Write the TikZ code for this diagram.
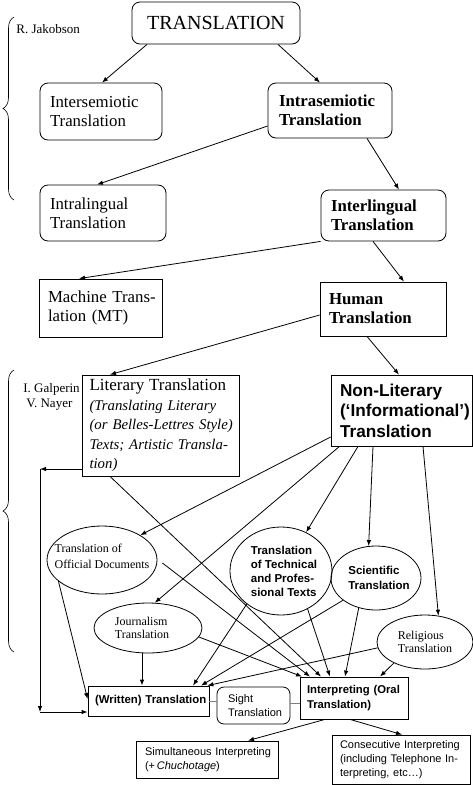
\documentclass[tikz,border=0pt]{standalone}
\usepackage{fontspec}
\setmainfont{Liberation Serif}
\newfontfamily\arialf{Liberation Sans}
\usetikzlibrary{arrows.meta,shapes.geometric,decorations.pathreplacing,calc}
\begin{document}
\begin{tikzpicture}[x=1pt,y=-1pt, line width=0.8pt,
  rbox/.style={draw, rounded corners=8pt, align=left, inner ysep=0pt},
  sbox/.style={draw, align=left, inner ysep=0pt},
  ell/.style={draw, ellipse, inner sep=0pt},
  arr/.style={-{Latex[length=6pt,width=4.5pt]}},
  tmf/.style={font=\fontsize{16.8}{19}\selectfont},
  tmb/.style={font=\fontsize{16.8}{19}\selectfont\bfseries},
  brc/.style={decorate, decoration={brace, amplitude=11pt}, line width=0.6pt},
  lbl/.style={anchor=base west, inner sep=0pt, font=\fontsize{13}{15}\selectfont},
  link/.style={draw=gray, line width=0.8pt}
]
\useasboundingbox (0,0) rectangle (473,785);

% top part
\node[rbox, align=center, minimum width=168pt, minimum height=42pt, font=\fontsize{20}{24}\selectfont] (trans) at (216,23) {TRANSLATION};
\node[rbox, tmf, text width=102pt, inner xsep=10pt, minimum height=57pt] (inter) at (101,111.5) {Intersemiotic\\Translation};
\node[rbox, tmb, text width=102pt, inner xsep=11pt, minimum height=55pt] (intra) at (330,110.5) {Intrasemiotic\\Translation};
\node[rbox, tmf, text width=106pt, inner xsep=10pt, minimum height=56pt] (intral) at (103,213) {Intralingual\\Translation};
\node[rbox, tmb, text width=105pt, inner xsep=10pt, minimum height=51pt] (interl) at (383.5,215.5) {Interlingual\\Translation};
\node[sbox, tmf, text width=105pt, inner xsep=9pt, minimum height=58pt] (mt) at (100.5,308) {\mbox{Machine Trans-}\\lation (MT)};
\node[sbox, tmb, text width=108pt, inner xsep=9pt, minimum height=54pt] (human) at (383,309) {Human\\Translation};

\node[sbox, text width=142pt, inner xsep=7.5pt, minimum height=101pt, font=\fontsize{14.8}{19.5}\selectfont\itshape] (lit) at (160.5,425.5)
  {\mbox{\upshape\fontsize{17}{19.5}\selectfont Literary Translation}\\
   \mbox{(Translating Literary}\\ \mbox{(or Belles-Lettres Style)}\\ \mbox{Texts; Artistic Transla-}\\ tion)};
\node[sbox, text width=123pt, inner xsep=9pt, minimum height=71pt, font=\arialf\bfseries\fontsize{17.2}{20.5}\selectfont] (nonlit) at (401.5,410.5)
  {\mbox{Non-Literary}\\ \mbox{(‘Informational’)}\\Translation};

% ellipses
\node[ell, minimum width=110pt, minimum height=68pt,
  label={[align=left, yshift=4pt, font=\fontsize{12}{16}\selectfont]center:{Translation of\\Official Documents}}] (offdoc) at (102,560) {};
\node[ell, minimum width=102pt, minimum height=88pt,
  label={[align=left, xshift=3pt, font=\arialf\bfseries\fontsize{11.5}{14}\selectfont]center:{Translation\\of Technical\\and Profes-\\sional Texts}}] (tech) at (281,571) {};
\node[ell, minimum width=90pt, minimum height=64pt,
  label={[align=left, xshift=3pt, font=\arialf\bfseries\fontsize{11.5}{14.5}\selectfont]center:{Scientific\\Translation}}] (sci) at (376,578) {};
\node[ell, minimum width=108pt, minimum height=50pt,
  label={[align=left, xshift=-6pt, font=\fontsize{12}{13.5}\selectfont]center:{Journalism\\Translation}}] (journ) at (148,628) {};
\node[ell, minimum width=96pt, minimum height=54pt,
  label={[align=left, font=\fontsize{12}{13.5}\selectfont]center:{Religious\\Translation}}] (relig) at (425,642) {};

% bottom boxes
\node[sbox, text width=107pt, inner xsep=7pt, minimum height=30pt, font=\arialf\bfseries\fontsize{11.4}{14}\selectfont] (written) at (148.5,701) {\mbox{(Written) Translation}};
\node[draw, rounded corners=7pt, align=left, inner ysep=0pt, text width=51pt, inner xsep=11pt, minimum height=37pt, font=\arialf\fontsize{11}{13.5}\selectfont] (sight) at (253.5,705.5) {Sight\\Translation};
\node[sbox, text width=94pt, inner xsep=7pt, minimum height=42pt, font=\arialf\bfseries\fontsize{11.3}{15}\selectfont] (interp) at (354,698) {\mbox{Interpreting (Oral}\\Translation)};
\node[sbox, text width=124pt, inner xsep=9pt, minimum height=37pt, font=\arialf\fontsize{11}{14}\selectfont] (simul) at (207,759.5) {\mbox{Simultaneous Interpreting}\\(+\,\textit{Chuchotage})};
\node[sbox, text width=122pt, inner xsep=8pt, minimum height=49pt, font=\arialf\fontsize{11}{14}\selectfont] (consec) at (401,759.5) {\mbox{Consecutive Interpreting}\\\mbox{(including Telephone In-}\\terpreting, etc…)};

% side labels and braces
\node[lbl] (jak) at (16,33) {R. Jakobson};
\node[lbl] (galp) at (23,392) {I. Galperin};
\node[lbl] (nayer) at (26,407) {V. Nayer};
\coordinate (b1a) at (14,200); \coordinate (b1b) at (14,17);
\coordinate (b2a) at (14,652); \coordinate (b2b) at (14,370);
\draw[brc] (b1a) -- (b1b);
\draw[brc] (b2a) -- (b2b);

% arrows top
\draw[arr] ([xshift=-69pt]trans.south) -- ([xshift=1pt]inter.north);
\draw[arr] ([xshift=62pt]trans.south) -- ([xshift=-10pt]intra.north);
\draw[arr] ([yshift=-15.5pt]intra.west) -- ([xshift=-6pt]intral.north);
\draw[arr] ([xshift=37pt]intra.south) -- ([xshift=15.5pt]interl.north);
\draw[arr] (interl.south west) -- ([xshift=-21.5pt]mt.north);
\draw[arr] ([xshift=-10.5pt]interl.south) -- ([xshift=21pt]human.north);
\draw[arr] ([yshift=-6pt]human.west) -- ([xshift=-50.5pt]lit.north);
\draw[arr] ([xshift=-16pt]human.south) -- ([xshift=-2.5pt]nonlit.north);

% literary
\coordinate (c1) at (40,469);
\coordinate (c2) at (40,712);
\draw[arr] ([yshift=-43.5pt]lit.west) -- (c1);
\draw[arr] (c1) -- (c2);
\draw[arr] (c2) -- (c2 -| written.west);
\draw[arr] ([xshift=-50.5pt]lit.south) -- ([xshift=-33pt]interp.north);

% non-literary
\draw[arr] ([yshift=-26.5pt]nonlit.west) -- (offdoc.33);
\draw[arr] ([xshift=-62pt]nonlit.south) -- (journ.75);
\draw[arr] ([xshift=-43.5pt]nonlit.south) -- (tech.57);
\draw[arr] ([xshift=-28.5pt]nonlit.south) -- (sci.103);
\draw[arr] ([xshift=21.5pt]nonlit.south) -- (relig.63);

% to written / interpreting
\draw[arr] (offdoc.206) -- ([yshift=2pt]written.west);
\draw[arr] ([xshift=5pt,yshift=-3pt]offdoc.east) -- ([xshift=-44pt]interp.north);
\draw[arr] (tech.224) -- ([xshift=44.5pt]written.north);
\draw[arr] (tech.305) -- ([xshift=-24pt]interp.north);
\draw[arr] (sci.214) -- ([xshift=52.5pt]written.north);
\draw[arr] (sci.240) -- ([xshift=-9pt]interp.north);
\draw[arr] ([xshift=-6pt]journ.south) -- ([xshift=-6.5pt]written.north);
\draw[arr] (journ.350) -- ([xshift=-52pt]interp.north);
\draw[arr] (relig.187) -- ([xshift=-2pt]written.north east);
\draw[arr] (relig.214) -- ([xshift=26pt]interp.north);

% interpreting children
\draw[arr] ([xshift=-29pt]interp.south) -- ([xshift=41pt]simul.north);
\draw[arr] ([xshift=-4pt]interp.south) -- ([xshift=1pt]consec.north);

% gray links
\coordinate (g1) at ($(sight.east)+(0,-2.5)$);
\draw[link] (written.east) -- (written.east -| sight.west);
\draw[link] (g1) -- (g1 -| interp.west);
\end{tikzpicture}
\end{document}
